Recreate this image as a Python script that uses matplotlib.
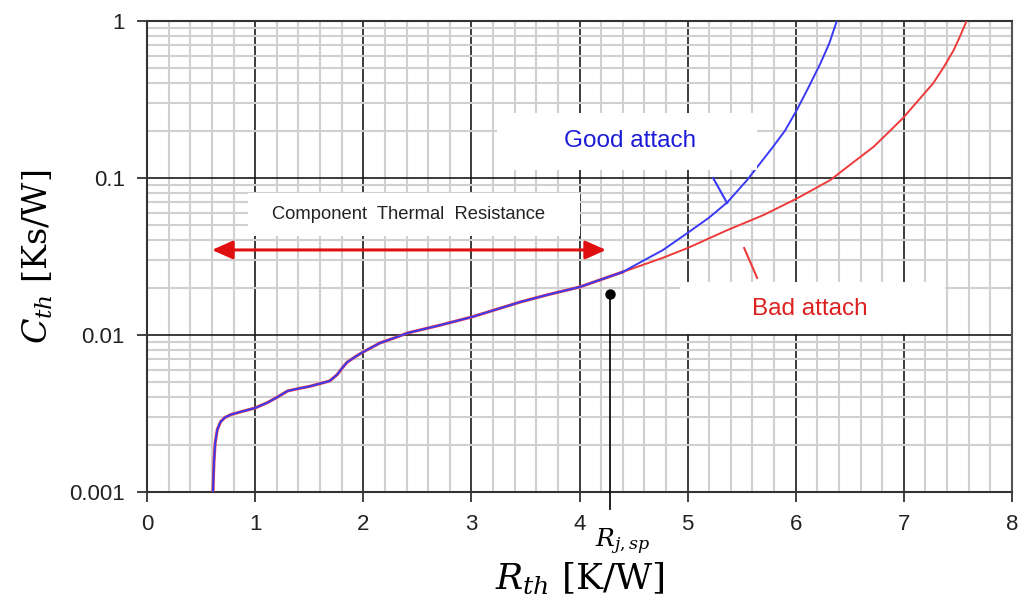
import matplotlib
matplotlib.use('Agg')
import matplotlib.pyplot as plt
from matplotlib.patches import Rectangle
from matplotlib.ticker import MultipleLocator, LogLocator, NullFormatter, FixedLocator, FixedFormatter

# shared part of both curves (good and bad attach coincide)
shared_r = [0.61, 0.615, 0.62, 0.63, 0.65, 0.68, 0.72, 0.78, 0.86, 1.0, 1.11, 1.2, 1.30,
            1.415, 1.5, 1.60, 1.69, 1.76, 1.80, 1.85, 1.93, 2.0, 2.155, 2.31, 2.41, 2.7,
            3.0, 3.45, 3.7, 4.0, 4.40]
shared_c = [0.001, 0.0013, 0.0016, 0.00205, 0.0025, 0.0028, 0.00298, 0.00312, 0.00323,
            0.00343, 0.0037, 0.0040, 0.0044, 0.00458, 0.0047, 0.0049, 0.0051, 0.0056,
            0.0061, 0.0067, 0.0073, 0.0078, 0.0089, 0.0097, 0.0103, 0.0115, 0.0130,
            0.0162, 0.0180, 0.0202, 0.0252]

good_r = [4.40, 4.6, 4.77, 5.0, 5.2, 5.37, 5.55, 5.79, 5.9, 6.01, 6.12, 6.23, 6.31, 6.38]
good_c = [0.0252, 0.030, 0.0347, 0.0447, 0.056, 0.0703, 0.097, 0.158, 0.20, 0.271, 0.38,
          0.54, 0.72, 1.0]

bad_r = [4.40, 4.77, 5.0, 5.35, 5.70, 6.01, 6.32, 6.52, 6.72, 6.86, 6.99, 7.13, 7.27,
         7.37, 7.46, 7.52, 7.58]
bad_c = [0.0252, 0.031, 0.0358, 0.046, 0.058, 0.074, 0.097, 0.124, 0.158, 0.196, 0.24,
         0.31, 0.40, 0.51, 0.65, 0.80, 1.0]

x_ticks = [0, 1, 2, 3, 4, 5, 6, 7, 8]
y_ticks = [0.001, 0.01, 0.1, 1]
y_ticklabels = ['0.001', '0.01', '0.1', '1']

rjsp_x = 4.28
rjsp_c = 0.0182
arrow_span = (0.60, 4.246)
arrow_c = 0.0348

BLUE = '#3a3af5'
RED = '#ee3a3a'

fig = plt.figure(figsize=(10.19, 6.07), dpi=100)
ax = fig.add_axes([0.1443, 0.1895, 0.8488, 0.7759])

ax.set_yscale('log')
ax.set_xlim(0, 8)
ax.set_ylim(0.001, 1)

# grid
ax.xaxis.set_major_locator(FixedLocator(x_ticks))
ax.xaxis.set_minor_locator(MultipleLocator(0.2))
ax.yaxis.set_major_locator(FixedLocator(y_ticks))
ax.yaxis.set_major_formatter(FixedFormatter(y_ticklabels))
ax.yaxis.set_minor_locator(LogLocator(base=10, subs=range(2, 10)))
ax.yaxis.set_minor_formatter(NullFormatter())
ax.grid(which='minor', color='#d0d0d0', linewidth=1.5, zorder=0)
ax.grid(which='major', color='#1a1a1a', linewidth=1.2, zorder=1)
ax.set_axisbelow(True)

for s in ['left', 'bottom', 'top']:
    ax.spines[s].set_color('#333333')
    ax.spines[s].set_linewidth(1.5)
ax.spines['right'].set_color('#555555')
ax.spines['right'].set_linewidth(1.5)

ax.tick_params(which='major', direction='out', length=7, width=1.3, color='#333333',
               labelsize=16, labelcolor='#222222', pad=9)
ax.tick_params(which='minor', length=0)
for lab in ax.get_xticklabels() + ax.get_yticklabels():
    lab.set_family('Liberation Sans')

# curves
ax.plot(shared_r, shared_c, color=RED, lw=2.2, zorder=3)
ax.plot(shared_r, shared_c, color=BLUE, lw=1.4, zorder=4)
ax.plot(bad_r, bad_c, color=RED, lw=1.4, zorder=3)
ax.plot(good_r, good_c, color=BLUE, lw=1.4, zorder=4)

# annotation boxes
ax.add_patch(Rectangle((3.24, 0.1125), 2.40, 0.259 - 0.1125, facecolor='white',
                       edgecolor='none', zorder=5))
ax.add_patch(Rectangle((0.934, 0.0428), 3.072, 0.0802 - 0.0428, facecolor='white',
                       edgecolor='none', zorder=5))
ax.add_patch(Rectangle((4.93, 0.0101), 2.45, 0.0218 - 0.0101, facecolor='white',
                       edgecolor='none', zorder=5))

ax.text(4.47, 0.172, 'Good attach', color='#1c1cd8', fontsize=17.5,
        family='Liberation Sans', ha='center', va='center', zorder=6)
ax.text(2.42, 0.0585, 'Component  Thermal  Resistance', color='#222222', fontsize=13.2,
        family='Liberation Sans', ha='center', va='center', zorder=6)
ax.text(6.13, 0.0147, 'Bad attach', color='#dd2020', fontsize=17.5,
        family='Liberation Sans', ha='center', va='center', zorder=6)

# leader lines
ax.plot([5.236, 5.365], [0.1, 0.0693], color=BLUE, lw=1.5, zorder=6)
ax.plot([5.523, 5.643], [0.0358, 0.0231], color=RED, lw=1.5, zorder=6)

# double arrow
ax.annotate('', xy=(arrow_span[1], arrow_c), xytext=(arrow_span[0], arrow_c),
            arrowprops=dict(arrowstyle='<|-|>,head_length=0.9,head_width=0.4',
                            color='#e01010', lw=2.2, mutation_scale=14,
                            shrinkA=0, shrinkB=0), zorder=6)

# R_j,sp marker
ax.plot([rjsp_x, rjsp_x], [rjsp_c, 0.00078], color='#111111', lw=1.3,
        clip_on=False, zorder=6)
ax.plot([rjsp_x], [rjsp_c], 'o', color='black', markersize=6.5, zorder=7)
ax.text(rjsp_x + 0.12, -0.105, r'$R_{j,sp}$', transform=ax.get_xaxis_transform(),
        fontsize=18, ha='center', va='center', math_fontfamily='dejavuserif')

ax.set_xlabel(r'$R_{th}$ [K/W]', fontsize=26, family='DejaVu Serif',
              math_fontfamily='dejavuserif', labelpad=18)
ax.set_ylabel(r'$C_{th}$ [Ks/W]', fontsize=24, family='DejaVu Serif',
              math_fontfamily='dejavuserif', labelpad=10)

fig.savefig('out.png', dpi=100)
